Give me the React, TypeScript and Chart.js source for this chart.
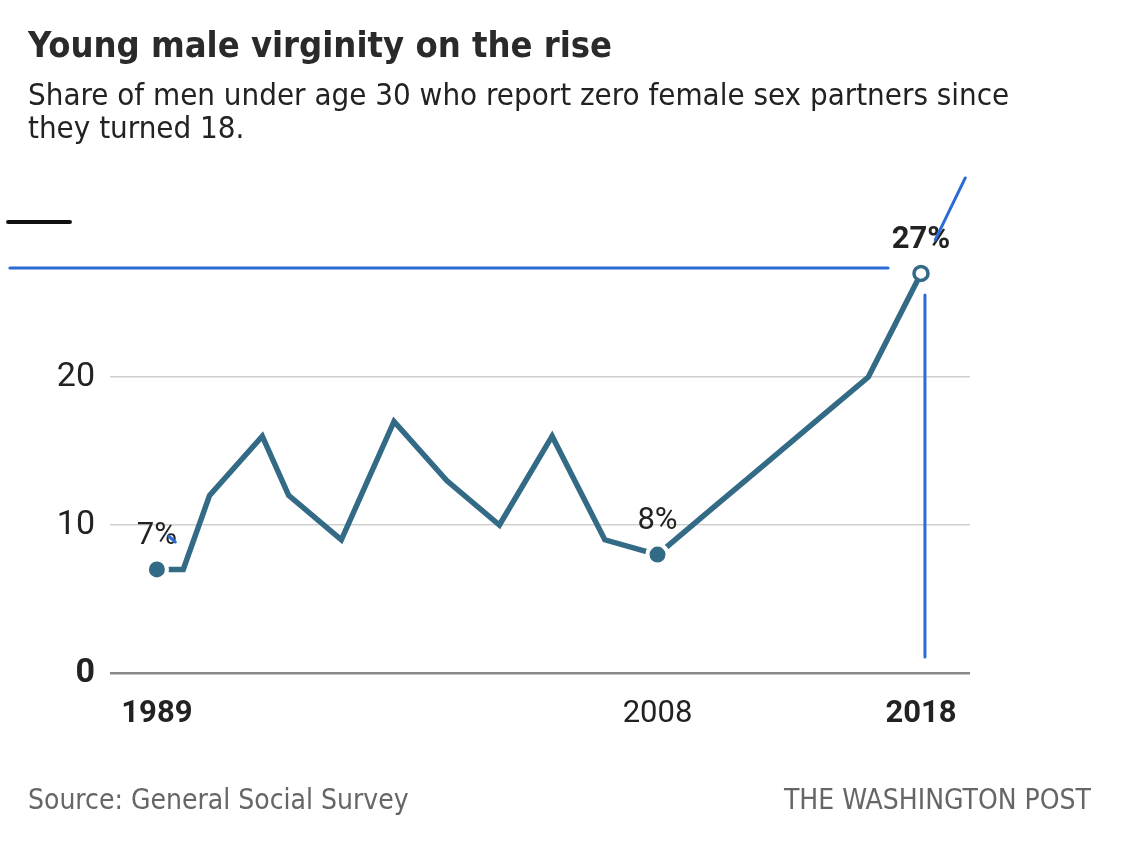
import React, { useEffect, useRef } from "react";
import { Chart, registerables } from "chart.js";

Chart.register(...registerables);

const years = [1989, 1990, 1991, 1993, 1994, 1996, 1998, 2000, 2002, 2004, 2006, 2008, 2010, 2012, 2014, 2016, 2018];
const shares = [7, 7, 12, 16, 12, 9, 17, 13, 10, 16, 9, 8, 11, 14, 17, 20, 27];

const xTickYears = [1989, 2008, 2018];
const xTickBold = [true, false, true];
const yTickValues = [0, 10, 20];

const labelYears = [1989, 2008, 2018];
const labelTexts = ["7%", "8%", "27%"];
const labelBold = [false, false, true];

// stray annotation strokes present in the picture: [x1, y1, x2, y2] in data units
const blueStrokes = [
  [1983.42, 27.36, 2016.75, 27.36],
  [2018.15, 25.54, 2018.15, 1.08],
  [2018.54, 29.26, 2019.68, 33.45],
  [1989.45, 9.25, 1989.7, 8.85],
];
const blackStrokes = [[1983.35, 30.47, 1985.7, 30.47]];

const LINE = "#336b87";
const BLUE = "#2a6bd6";
const FONT = "Roboto, 'Noto Sans', sans-serif";
const NARROW = "'Liberation Sans Narrow', 'DejaVu Sans Condensed', sans-serif";

export default function App() {
  const ref = useRef<HTMLCanvasElement | null>(null);

  useEffect(() => {
    if (!ref.current) return;
    const hl = (i: number) => labelYears.includes(years[i]);
    const annot = {
      id: "annot",
      afterDatasetsDraw(chart: any) {
        const { ctx } = chart;
        const xs = chart.scales.x;
        const ys = chart.scales.y;
        ctx.save();
        ctx.lineCap = "round";
        const stroke = (arr: number[][], color: string, w: number) => {
          ctx.strokeStyle = color;
          ctx.lineWidth = w;
          arr.forEach((s) => {
            ctx.beginPath();
            ctx.moveTo(xs.getPixelForValue(s[0]), ys.getPixelForValue(s[1]));
            ctx.lineTo(xs.getPixelForValue(s[2]), ys.getPixelForValue(s[3]));
            ctx.stroke();
          });
        };
        ctx.textAlign = "center";
        ctx.textBaseline = "middle";
        ctx.fillStyle = "#222";
        labelYears.forEach((yr, k) => {
          const i = years.indexOf(yr);
          ctx.font = `${labelBold[k] ? "bold " : ""}31px ${FONT}`;
          ctx.fillText(labelTexts[k], xs.getPixelForValue(yr), ys.getPixelForValue(shares[i]) - 33);
        });
        stroke(blueStrokes, BLUE, 3);
        stroke(blackStrokes, "#111", 4);
        ctx.restore();
      },
    };
    const chart = new Chart(ref.current, {
      type: "line",
      data: {
        datasets: [
          {
            data: years.map((y, i) => ({ x: y, y: shares[i] })),
            borderColor: LINE,
            borderWidth: 5.5,
            tension: 0,
            clip: false as any,
            pointRadius: (c: any) => (hl(c.dataIndex) ? (years[c.dataIndex] === 2018 ? 7 : 10) : 0),
            pointBorderWidth: (c: any) => (years[c.dataIndex] === 2018 ? 3.5 : 4),
            pointBackgroundColor: (c: any) => (years[c.dataIndex] === 2018 ? "#fff" : LINE),
            pointBorderColor: (c: any) => (years[c.dataIndex] === 2018 ? LINE : "#fff"),
          } as any,
        ],
      },
      options: {
        animation: false,
        responsive: false,
        devicePixelRatio: 1,
        layout: { padding: { top: 229, right: 158, bottom: 125, left: 0 } },
        plugins: { legend: { display: false }, tooltip: { enabled: false }, title: { display: false } },
        scales: {
          x: {
            type: "linear",
            min: 1987.22,
            max: 2019.86,
            afterBuildTicks: (s: any) => {
              s.ticks = xTickYears.map((v) => ({ value: v }));
            },
            afterFit: (s: any) => {
              s.height = 60;
            },
            grid: { display: false, drawTicks: false },
            border: { display: false },
            ticks: {
              padding: 23,
              color: "#222",
              maxRotation: 0,
              autoSkip: false,
              callback: (v: any) => String(v),
              font: (c: any) => ({
                family: FONT,
                size: 31,
                weight: xTickBold[xTickYears.indexOf(c.tick?.value)] ? "bold" : "normal",
              }),
            },
          },
          y: {
            min: 0,
            max: 30,
            afterBuildTicks: (s: any) => {
              s.ticks = yTickValues.map((v) => ({ value: v }));
            },
            afterFit: (s: any) => {
              s.width = 110;
            },
            grid: {
              drawTicks: false,
              color: (c: any) => (c.tick?.value === 0 ? "#888" : "#cfcfcf"),
              lineWidth: (c: any) => (c.tick?.value === 0 ? 2.5 : 1.5),
            },
            border: { display: false },
            ticks: {
              padding: 15,
              color: "#222",
              callback: (v: any) => String(v),
              font: (c: any) => ({ family: FONT, size: 34, weight: c.tick?.value === 0 ? "bold" : "normal" }),
            },
          },
        },
      },
      plugins: [annot],
    });
    return () => chart.destroy();
  }, []);

  return (
    <div style={{ position: "absolute", left: 0, top: 0, width: 1128, height: 858, background: "#fff", overflow: "hidden" }}>
      <canvas ref={ref} width={1128} height={858} style={{ position: "absolute", left: 0, top: 0, width: 1128, height: 858 }} />
      <div style={{ position: "absolute", left: 28, top: 24, font: `bold 36px ${NARROW}`, color: "#2a2a2a", whiteSpace: "nowrap" }}>
        Young male virginity on the rise
      </div>
      <div style={{ position: "absolute", left: 28, top: 78, width: 1000, font: `31px/33px ${NARROW}`, color: "#222" }}>
        Share of men under age 30 who report zero female sex partners since they turned 18.
      </div>
      <div style={{ position: "absolute", left: 28, top: 783, font: `28px ${NARROW}`, color: "#666", whiteSpace: "nowrap" }}>
        Source: General Social Survey
      </div>
      <div style={{ position: "absolute", right: 37, top: 783, font: `28px ${NARROW}`, color: "#666", whiteSpace: "nowrap" }}>
        THE WASHINGTON POST
      </div>
    </div>
  );
}
